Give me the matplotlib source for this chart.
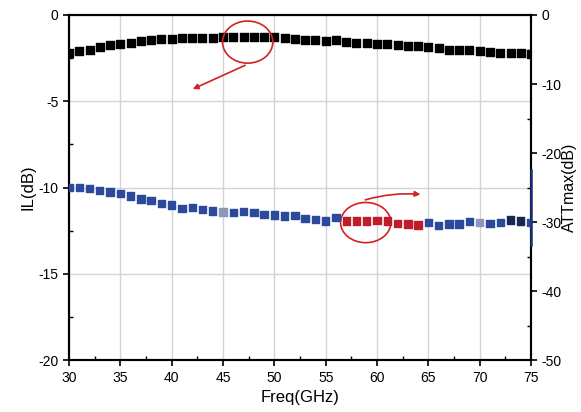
import numpy as np
import matplotlib.pyplot as plt
from matplotlib.patches import Ellipse

plt.rcParams['font.family'] = ['Liberation Sans', 'DejaVu Sans']
plt.rcParams['axes.unicode_minus'] = False

freq = list(range(30, 76))

# insertion loss (left axis, dB)
il = [-2.20, -2.10, -2.00, -1.85, -1.75, -1.70, -1.60, -1.53, -1.47, -1.41,
      -1.40, -1.36, -1.36, -1.33, -1.33, -1.30, -1.30, -1.26, -1.26, -1.28,
      -1.30, -1.36, -1.40, -1.45, -1.47, -1.49, -1.47, -1.57, -1.61, -1.63,
      -1.69, -1.70, -1.74, -1.80, -1.80, -1.86, -1.94, -2.00, -2.03, -2.03,
      -2.09, -2.13, -2.19, -2.23, -2.23, -2.28]

# max attenuation (right axis, dB)
att = [-24.97, -25.03, -25.12, -25.46, -25.65, -25.84, -26.23, -26.67, -26.91, -27.29,
       -27.54, -28.01, -27.93, -28.16, -28.41, -28.55, -28.65, -28.51, -28.65, -28.94,
       -28.99, -29.13, -29.06, -29.46, -29.61, -29.86, -29.38, -29.86, -29.86, -29.86,
       -29.81, -29.86, -30.19, -30.29, -30.43, -30.04, -30.54, -30.29, -30.29, -29.96,
       -30.04, -30.19, -30.04, -29.71, -29.86, -30.04]

blue = '#2b4a9c'
red = '#c01c2c'
att_colors = []
for f in freq:
    if 57 <= f <= 64:
        att_colors.append(red)
    elif f in (45, 70):
        att_colors.append('#8d97bb')
    elif f in (73, 74):
        att_colors.append('#1b2452')
    else:
        att_colors.append(blue)

fig = plt.figure(figsize=(5.81, 4.12), dpi=100)
ax = fig.add_axes([0.1188, 0.126, 0.7952, 0.8376])
ax2 = ax.twinx()

ax.set_xlim(30, 75)
ax.set_ylim(-20, 0)
ax2.set_ylim(-50, 0)

ax.set_xticks(np.arange(30, 76, 5))
ax.set_xticks(np.arange(30, 76, 2.5), minor=True)
ax.set_yticks(np.arange(-20, 1, 5))
ax.set_yticks(np.arange(-20, 1, 2.5), minor=True)
ax2.set_yticks(np.arange(-50, 1, 10))
ax2.set_yticks(np.arange(-50, 1, 5), minor=True)

ax.grid(True, which='major', color='#d4d4d4', lw=1)
ax.set_axisbelow(True)

ax.tick_params(which='major', direction='out', length=4, width=1.2, labelsize=10)
ax.tick_params(which='minor', direction='in', length=3, width=1)
ax2.tick_params(which='major', direction='out', length=4, width=1.2, labelsize=10)
ax2.tick_params(which='minor', direction='in', length=3, width=1)

for a in (ax, ax2):
    for s in a.spines.values():
        s.set_linewidth(1.5)

ax.scatter(freq, il, marker='s', s=28, color='black', zorder=3)
ax2.scatter(freq, att, marker='s', s=28, color=att_colors, zorder=3)

# blue segment on the right spine
ax2.plot([1, 1], [0.333, 0.551], transform=ax2.transAxes, color='#1b2e7a',
         lw=1.8, clip_on=False, zorder=5)

ax.set_xlabel('Freq(GHz)', fontsize=12, labelpad=4)
ax.set_ylabel('IL(dB)', fontsize=12, labelpad=2)
ax2.set_ylabel('ATTmax(dB)', fontsize=11.5, labelpad=0)

# hand-drawn red marks
ax.add_patch(Ellipse((47.4, -1.57), 4.9, 2.44, fill=False, ec='#d42020', lw=1.2, zorder=4))
ax.annotate('', xy=(41.8, -4.36), xytext=(47.4, -2.85),
            arrowprops=dict(arrowstyle='-|>', color='#d42020', lw=1.2, mutation_scale=8))
ax.add_patch(Ellipse((58.9, -12.03), 4.9, 2.33, fill=False, ec='#d42020', lw=1.2, zorder=4))
ax.annotate('', xy=(64.5, -10.41), xytext=(58.6, -10.76),
            arrowprops=dict(arrowstyle='-|>', color='#d42020', lw=1.2, mutation_scale=8,
                            connectionstyle='arc3,rad=-0.1'))

fig.savefig('out.png', dpi=100)
